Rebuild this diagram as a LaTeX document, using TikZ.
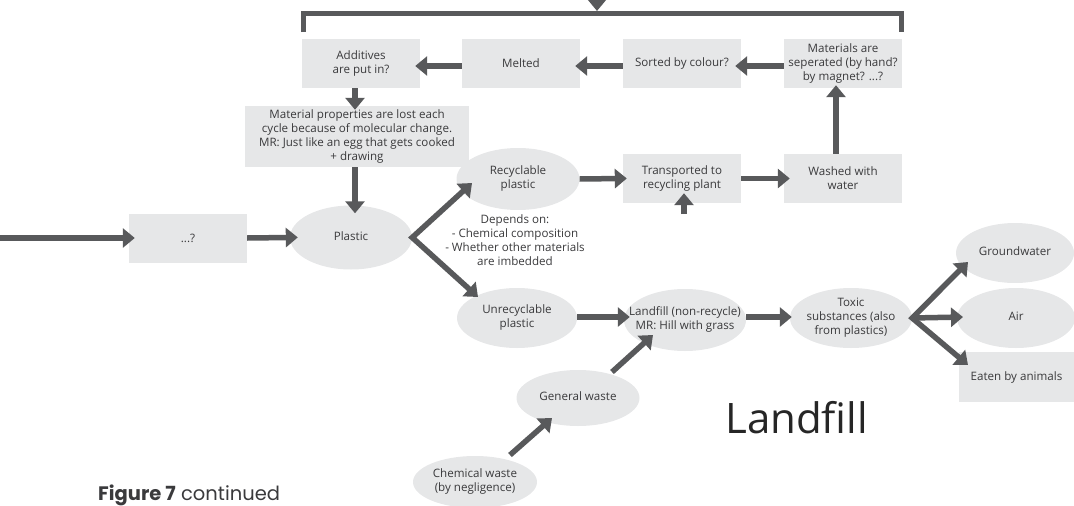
\documentclass[tikz,border=0pt]{standalone}
\usepackage{fontspec}
\setmainfont{Open Sans}
\newfontfamily\figfont{Poppins}
\usetikzlibrary{shapes.geometric,arrows.meta}
\definecolor{boxgray}{HTML}{E6E7E8}
\definecolor{arrgray}{HTML}{58595B}
\definecolor{txtgray}{HTML}{3A3A3C}
\newcommand\zw[1]{\makebox[0pt]{\begin{tabular}{@{}c@{}}#1\end{tabular}}}
\tikzset{
  txt/.style={font=\fontsize{11.6}{14}\selectfont, text=txtgray, align=center},
  box/.style={txt, rectangle, fill=boxgray, minimum width=118pt, minimum height=49pt, inner sep=1pt},
  oval/.style={txt, ellipse, fill=boxgray, minimum width=122pt, minimum height=62pt, inner sep=0pt},
  arr/.style={draw=arrgray, line width=5.5pt, line join=miter, -{Triangle[length=12pt,width=19pt]}},
  arrboth/.style={draw=arrgray, line width=5.5pt, line join=miter, {Triangle[length=12pt,width=19pt]}-{Triangle[length=12pt,width=19pt]}},
  ovl/.style={shorten >=-#1},
}
\begin{document}
\begin{tikzpicture}[x=1pt,y=-1pt]
\useasboundingbox (0,0) rectangle (1074,506);
% top row
\node[box] (add) at (361,63.5) {Additives\\are put in?};
\node[box] (melt) at (521,63.5) {Melted};
\node[box] (sort) at (682,63.5) {Sorted by colour?};
\node[box] (mat) at (843,63.5) {Materials are\\seperated (by hand?\\by magnet? ...?};
\node[box, minimum width=224pt, minimum height=61pt] (props) at (357,136.5) {Material properties are lost each\\cycle because of molecular change.\\MR: Just like an egg that gets cooked\\+ drawing};
% middle
\node[box] (dots) at (188,238) {...?};
\node[oval, minimum height=64pt] (plastic) at (351,237.5) {\zw{Plastic}};
\node[oval, minimum width=123pt] (recyc) at (518,179) {\zw{Recyclable\\plastic}};
\node[box] (trans) at (682,178.5) {Transported to\\recycling plant};
\node[box] (wash) at (843,178.5) {Washed with\\water};
\node[txt] (dep) at (515,240) {Depends on:\\- Chemical composition\\- Whether other materials\\are imbedded};
% bottom
\node[oval, minimum width=120pt, minimum height=60pt] (unrec) at (517,318) {\zw{Unrecyclable\\plastic}};
\node[oval] (lf) at (685,320) {\zw{Landfill (non-recycle)\\MR: Hill with grass}};
\node[oval, minimum height=60pt] (toxic) at (851,318) {\zw{Toxic\\substances (also\\from plastics)}};
\node[oval, minimum width=123pt, minimum height=56pt] (gen) at (578,398) {\zw{General waste}};
\node[oval, minimum width=124pt, minimum height=52pt] (chem) at (475,482) {\zw{Chemical waste\\(by negligence)}};
\node[oval, minimum width=118pt, minimum height=60pt] (ground) at (1015,253) {\zw{Groundwater}};
\node[oval, minimum width=118pt, minimum height=60pt] (air) at (1016,318) {\zw{Air}};
\node[box, minimum width=115pt, minimum height=50pt] (eaten) at (1016.5,377) {Eaten by animals};
% titles
\node[font=\fontsize{42}{50}\selectfont, text=black!85, anchor=base west, inner sep=0pt] (lftitle) at (725,433) {Landfill};
\node[font=\figfont\fontsize{19.5}{22}\selectfont, text=txtgray, anchor=base west, inner sep=0pt] (cap) at (98,500) {\textbf{Figure 7} continued};
% bracket
\coordinate (bl) at (303.5,32);
\coordinate (br) at (901.5,32);
\coordinate (bracketmid) at (597,11);
\coordinate (topfeed) at (597,-4);
\draw[draw=arrgray, line width=5pt] (bl) -- (303.5,13.5) -- (901.5,13.5) -- (br);
\draw[arr] (topfeed) -- (bracketmid);
% top row arrows
\draw[arr, ovl=6pt] ([yshift=-2.5pt]mat.west) -- ([yshift=-2.5pt]sort.east);
\draw[arr, ovl=5pt] ([yshift=-2.5pt]sort.west) -- ([yshift=-2.5pt]melt.east);
\draw[arr, ovl=5pt] ([yshift=-2.5pt]melt.west) -- ([yshift=-2.5pt]add.east);
\draw[arr, ovl=4pt] ([xshift=-6pt]add.south) -- ([xshift=-2pt]props.north);
\draw[arr, ovl=8pt] ([xshift=-2pt]props.south) -- ([xshift=4pt]plastic.north);
% entry
\coordinate (entry) at (0,238);
\draw[arr, ovl=6pt] (entry) -- (dots.west);
\draw[arr, ovl=8pt] (dots.east) -- (plastic.west);
% fork from plastic
\draw[arrboth] ([shift={(-46,4)}]recyc.center) -- (plastic.east) -- ([shift={(-39,-21)}]unrec.center);
% recycling chain
\draw[arr, ovl=4pt] (recyc.east) -- (trans.west);
\coordinate (tfoot) at (684,214);
\draw[arr, ovl=10pt] (tfoot) -- (tfoot |- trans.south);
\draw[arr, ovl=6pt] (trans.east) -- (wash.west);
\draw[arr, ovl=3pt] ([xshift=-7pt]wash.north) -- ([xshift=-7pt]mat.south);
% landfill chain
\draw[arr, ovl=6pt] ([yshift=1pt]unrec.east) -- ([yshift=3pt]lf.west);
\draw[arr, ovl=2pt] ([yshift=3pt]lf.east) -- ([yshift=1pt]toxic.west);
\draw[arr] ([shift={(34,-26)}]gen.center) -- ([shift={(-32,15)}]lf.center);
\draw[arr] ([shift={(35,-27)}]chem.center) -- ([shift={(-26,20)}]gen.center);
% toxic fork
\draw[arrboth] ([shift={(-47,9)}]ground.center) -- (toxic.east) -- ([shift={(-48.5,-12)}]eaten.center);
\draw[arr] (toxic.east) -- ([shift={(-53,-1)}]air.center);
\end{tikzpicture}
\end{document}
